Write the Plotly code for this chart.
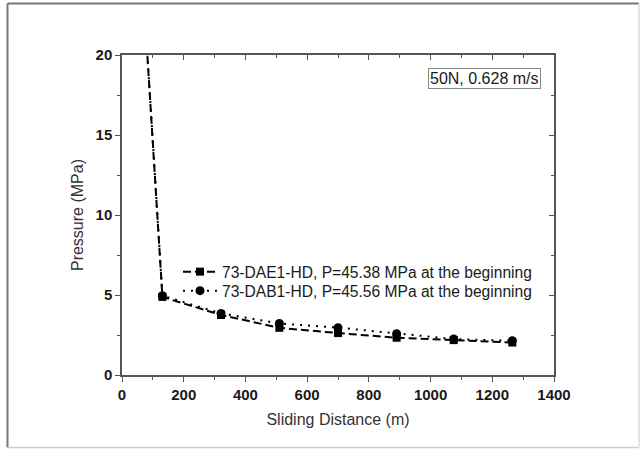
import plotly.graph_objects as go

# Data (x = sliding distance in m, y = pressure in MPa)
dist_dae = [0, 131, 321, 510, 700, 890, 1075, 1265]
p_dae = [45.38, 4.88, 3.75, 2.95, 2.62, 2.33, 2.18, 2.03]
dist_dab = [0, 131, 321, 510, 700, 890, 1075, 1265]
p_dab = [45.56, 4.96, 3.85, 3.22, 2.96, 2.58, 2.25, 2.14]
name_dae = "73-DAE1-HD, P=45.38 MPa at the beginning"
name_dab = "73-DAB1-HD, P=45.56 MPa at the beginning"
x_ticks = [0, 200, 400, 600, 800, 1000, 1200, 1400]
y_ticks = [0, 5, 10, 15, 20]

W, H = 640, 449
L, R, T, B = 122, 86, 55, 74
pw, ph = W - L - R, H - T - B

def px(x):
    return (x - L) / pw

def py(y):
    return 1 - (y - T) / ph

FONT = "Liberation Sans, Arial, sans-serif"
INK = "#1a1a1a"
LEG_SIZE = 15.6

fig = go.Figure()
fig.add_trace(go.Scatter(
    x=dist_dae, y=p_dae, name=name_dae, mode="lines+markers", legend="legend",
    line=dict(color="black", width=2, dash="8px,4px"),
    marker=dict(symbol="square", size=8, color="black"),
))
fig.add_trace(go.Scatter(
    x=dist_dab, y=p_dab, name=name_dab, mode="lines+markers", legend="legend2",
    line=dict(color="black", width=2, dash="2px,6px"),
    marker=dict(symbol="circle", size=9, color="black"),
))

axis_common = dict(
    showgrid=False, zeroline=False, showline=True, linecolor="#555",
    linewidth=1.5, tickcolor="#555", ticklen=5, tickwidth=1,
)

leg_common = dict(
    xanchor="left", yanchor="middle", bgcolor="rgba(0,0,0,0)",
    font=dict(size=LEG_SIZE, family=FONT, color=INK), itemwidth=34,
)

fig.update_layout(
    width=W, height=H,
    margin=dict(l=L, r=R, t=T, b=B),
    paper_bgcolor="white", plot_bgcolor="white",
    font=dict(family=FONT, color=INK, size=16),
    showlegend=True,
    legend=dict(x=px(178), y=py(272), **leg_common),
    legend2=dict(x=px(178), y=py(291), **leg_common),
    xaxis=dict(
        range=[0, 1400], tickvals=x_ticks, ticks="outside",
        tickfont=dict(size=15, family=FONT, color=INK, weight="bold"),
        title=dict(text="Sliding Distance (m)", font=dict(size=16, family=FONT, color="#333"), standoff=12),
        minor=dict(ticks="outside", dtick=100, ticklen=3, tickcolor="#555"),
        **axis_common,
    ),
    yaxis=dict(
        range=[0, 20], tickvals=y_ticks, ticks="outside",
        tickfont=dict(size=15, family=FONT, color=INK, weight="bold"),
        title=dict(text="Pressure (MPa)", font=dict(size=16, family=FONT, color="#333"), standoff=8),
        minor=dict(ticks="outside", dtick=2.5, ticklen=3, tickcolor="#555"),
        **axis_common,
    ),
    xaxis2=dict(
        overlaying="x", side="top", matches="x", range=[0, 1400], tickvals=x_ticks,
        ticks="inside", showticklabels=False,
        minor=dict(ticks="inside", dtick=100, ticklen=3, tickcolor="#555"),
        **axis_common,
    ),
    yaxis2=dict(
        overlaying="y", side="right", matches="y", range=[0, 20], tickvals=y_ticks,
        ticks="inside", showticklabels=False,
        minor=dict(ticks="inside", dtick=2.5, ticklen=3, tickcolor="#555"),
        **axis_common,
    ),
)

# dummy invisible trace to activate the mirrored axes
fig.add_trace(go.Scatter(x=[None], y=[None], xaxis="x2", yaxis="y2",
                         showlegend=False, hoverinfo="skip"))

fig.add_annotation(
    text="50N, 0.628 m/s", x=px(484), y=py(79), xref="paper", yref="paper",
    xanchor="center", yanchor="middle",
    showarrow=False, font=dict(size=16, family=FONT, color=INK),
    bordercolor="#888", borderwidth=1, borderpad=1, bgcolor="white",
)

# outer picture frame
fig.add_shape(type="line", xref="paper", yref="paper",
              x0=px(7.5), x1=px(7.5), y0=py(3.5), y1=py(447.5),
              line=dict(color="#777", width=2))
fig.add_shape(type="line", xref="paper", yref="paper",
              x0=px(7.5), x1=px(639), y0=py(3.5), y1=py(3.5),
              line=dict(color="#777", width=2))
fig.add_shape(type="line", xref="paper", yref="paper",
              x0=px(7.5), x1=px(639), y0=py(447.5), y1=py(447.5),
              line=dict(color="#ccc", width=1.5))
fig.add_shape(type="line", xref="paper", yref="paper",
              x0=px(639), x1=px(639), y0=py(3.5), y1=py(447.5),
              line=dict(color="#ddd", width=1.5))

fig.write_html("out.html")
